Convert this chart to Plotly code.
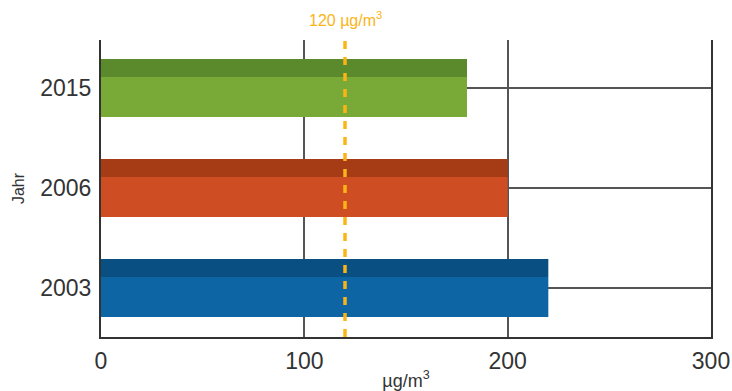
import plotly.graph_objects as go

years = ["2003", "2006", "2015"]
values = [220, 200, 180]
light_colors = ["#0D65A3", "#CF4D22", "#79AA37"]
dark_colors = ["#0A4F82", "#A53C15", "#5B8A2D"]
threshold = 120
threshold_label = "120 µg/m<sup>3</sup>"
x_title = "µg/m<sup>3</sup>"
y_title = "Jahr"
x_ticks = [0, 100, 200, 300]

ypos = list(range(len(years)))

fig = go.Figure()
fig.add_trace(go.Bar(
    x=values, y=ypos, orientation="h",
    offset=-0.29, width=0.40,
    marker=dict(color=light_colors, line=dict(width=0)),
    hoverinfo="skip", showlegend=False,
))
fig.add_trace(go.Bar(
    x=values, y=ypos, orientation="h",
    offset=0.11, width=0.18,
    marker=dict(color=dark_colors, line=dict(width=0)),
    hoverinfo="skip", showlegend=False,
))

line_color = "#FBB416"
fig.add_shape(type="line", xref="x", yref="paper",
              x0=threshold, x1=threshold, y0=0, y1=1.01,
              line=dict(color=line_color, width=3.5, dash="8px,8px"))
fig.add_annotation(x=threshold, xref="x", y=1, yref="paper",
                   yanchor="bottom", yshift=9, showarrow=False,
                   text=threshold_label,
                   font=dict(size=16, color=line_color))

font_family = "Liberation Sans, Arial, sans-serif"
fig.update_layout(
    width=732, height=391,
    margin=dict(l=101, r=21, t=40, b=54),
    paper_bgcolor="white", plot_bgcolor="white",
    barmode="overlay",
    font=dict(family=font_family, color="#333333"),
    xaxis=dict(
        range=[0, 300], tickvals=x_ticks, ticktext=[str(v) for v in x_ticks],
        showgrid=True, gridcolor="#555555", gridwidth=1.5,
        zeroline=False, showline=True, linecolor="#333333", linewidth=1.5,
        tickfont=dict(size=23, color="#333333"),
        ticks="", ticklabelstandoff=3, automargin=False,
        title=dict(text=x_title, font=dict(size=18, color="#333333"), standoff=4),
    ),
    yaxis=dict(
        range=[-0.49, 2.48], tickvals=ypos, ticktext=years,
        showgrid=True, gridcolor="#555555", gridwidth=1.5,
        zeroline=False, showline=True, mirror=True,
        linecolor="#333333", linewidth=2,
        tickfont=dict(size=23, color="#333333"),
        ticks="", ticklabelstandoff=3, automargin=False,
        title=dict(text=y_title, font=dict(size=16, color="#333333"), standoff=12),
    ),
)

fig.write_html(
    "out.html",
    config={"displayModeBar": False},
    post_script="document.body.style.margin='0';document.body.style.overflow='hidden';",
)
